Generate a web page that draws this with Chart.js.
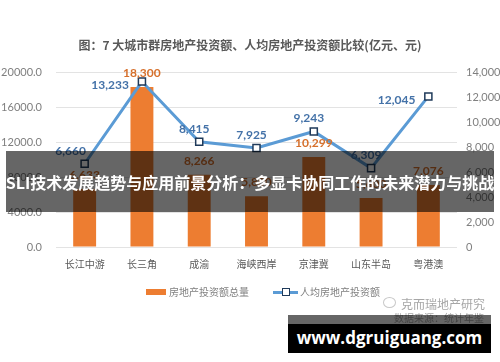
<!DOCTYPE html>
<html>
<head>
<meta charset="utf-8">
<script src="https://cdn.jsdelivr.net/npm/chart.js@4/dist/chart.umd.min.js"></script>
<style>
  html, body { margin:0; padding:0; background:#fff; }
  #wrap { position:relative; width:500px; height:362px; overflow:hidden; font-family:'Noto Sans CJK SC', sans-serif; }
  #ch { position:absolute; left:0; top:0; }
  .abs { position:absolute; white-space:nowrap; }
</style>
</head>
<body>
<div id="wrap">
  <canvas id="ch" width="500" height="362"></canvas>

  <div class="abs" style="left:0; width:500px; top:36px; text-align:center; font-size:12px; font-weight:700; color:#595959">图：7 大城市群房地产投资额、人均房地产投资额比较(亿元、元)</div>

  <!-- legend -->
  <div class="abs" style="left:146px; top:289px; width:20px; height:6px; background:#ed7d31"></div>
  <div class="abs" style="left:169px; top:284px; font-size:10px; color:#7f7f7f">房地产投资额总量</div>
  <div class="abs" style="left:273px; top:291px; width:25px; height:3px; background:#5b9bd5"></div>
  <div class="abs" style="left:282px; top:288px; width:6px; height:6px; border:1.5px solid #1f3a5a; background:#fff"></div>
  <div class="abs" style="left:300px; top:284px; font-size:10px; color:#7f7f7f">人均房地产投资额</div>

  <!-- watermark -->
  <div class="abs" style="left:383px; top:297px; width:11px; height:9px; border:1px solid #c8c8c8; border-radius:50%"></div>
  <div class="abs" style="left:401px; top:295px; font-size:12px; color:#a6a6a6">克而瑞地产研究</div>
  <div class="abs" style="left:394px; top:310px; font-size:10px; color:#a6a6a6">数据来源：统计年鉴</div>

  <!-- overlay banner -->
  <div class="abs" style="left:6px; top:151px; width:488px; height:61px; background:rgba(0,0,0,0.6)"></div>
  <div class="abs" style="left:0; width:500px; top:171px; text-align:center; font-size:16px; font-weight:700; color:#fff; line-height:22px">SLI技术发展趋势与应用前景分析：多显卡协同工作的未来潜力与挑战</div>

  <!-- url box -->
  <div class="abs" style="left:288px; top:315px; width:203px; height:9px; background:rgba(0,0,0,0.6)"></div>
  <div class="abs" style="left:288px; top:324px; width:203px; height:29px; background:#000"></div>
  <div class="abs" style="left:288px; width:203px; top:326px; text-align:center; font-family:'Open Sans',sans-serif; font-size:17px; font-weight:700; color:#fff; line-height:24px">www.dgruiguang.com</div>
</div>

<script>
const regions = ['长江中游', '长三角', '成渝', '海峡西岸', '京津冀', '山东半岛', '粤港澳'];
const investTotal = [6633, 18300, 8266, 5800, 10299, 5600, 7076];      // 亿元
const investPerCapita = [6660, 13233, 8415, 7925, 9243, 6309, 12045]; // 元
const leftTicks = [0, 4000, 8000, 12000, 16000, 20000];
const rightTicks = [0, 2000, 4000, 6000, 8000, 10000, 12000, 14000];

const fmt = v => v.toLocaleString('en-US');

// simple value labels drawn on top of the marks
const valueLabels = {
  id: 'valueLabels',
  afterDatasetsDraw(chart) {
    const ctx = chart.ctx;
    ctx.save();
    chart.data.datasets.forEach((ds, i) => {
      const meta = chart.getDatasetMeta(i);
      ctx.font = "700 12px Lato, 'Open Sans', sans-serif";
      ctx.fillStyle = ds.labelColor;
      ctx.textBaseline = 'middle';
      meta.data.forEach((el, j) => {
        const side = (ds.labelSide || [])[j] || 'top';
        const txt = fmt(ds.data[j]);
        if (side === 'left') {
          ctx.textAlign = 'right';
          ctx.fillText(txt, el.x - 13, el.y + 4);
        } else if (side === 'topleft') {
          ctx.textAlign = 'center';
          ctx.fillText(txt, el.x - 14, el.y - 13);
        } else {
          ctx.textAlign = 'center';
          ctx.fillText(txt, el.x - (ds.type === 'line' ? 5 : 0), el.y - (ds.type === 'line' ? 13 : 14));
        }
      });
    });
    ctx.restore();
  }
};

const tickFont = { family: "Lato, 'Open Sans', sans-serif", size: 11 };

new Chart(document.getElementById('ch'), {
  data: {
    labels: regions,
    datasets: [
      {
        type: 'line',
        label: '人均房地产投资额',
        data: investPerCapita,
        yAxisID: 'y1',
        borderColor: '#5b9bd5',
        borderWidth: 3,
        pointStyle: 'rect',
        pointRadius: 5,
        pointBorderWidth: 1.5,
        pointBorderColor: '#1f3a5a',
        pointBackgroundColor: '#fff',
        tension: 0,
        order: 0,
        labelColor: '#4472a8',
        labelSide: ['topleft', 'left', 'top', 'top', 'top', 'top', 'left']
      },
      {
        type: 'bar',
        label: '房地产投资额总量',
        data: investTotal,
        yAxisID: 'y',
        backgroundColor: '#ed7d31',
        categoryPercentage: 1,
        barPercentage: 0.4,
        order: 1,
        labelColor: '#d6702c'
      }
    ]
  },
  options: {
    responsive: false,
    animation: false,
    layout: { padding: { top: 72, left: 0, right: 0, bottom: 0 } },
    plugins: { legend: { display: false }, tooltip: { enabled: false } },
    scales: {
      x: {
        grid: { display: false, drawTicks: false },
        border: { display: false },
        ticks: { color: '#595959', padding: 11, font: { family: "'Noto Sans CJK SC', sans-serif", size: 10 } },
        afterFit: s => { s.height = 115; }
      },
      y: {
        position: 'left',
        min: 0, max: 20000,
        afterBuildTicks: s => { s.ticks = leftTicks.map(v => ({ value: v })); },
        grid: { color: '#e3e3e3', drawTicks: false },
        border: { display: false },
        ticks: { color: '#7f7f7f', padding: 14, font: tickFont, callback: v => v.toFixed(1) },
        afterFit: s => { s.width = 56; }
      },
      y1: {
        position: 'right',
        min: 0, max: 14000,
        afterBuildTicks: s => { s.ticks = rightTicks.map(v => ({ value: v })); },
        grid: { display: false, drawTicks: false },
        border: { display: false },
        ticks: { color: '#7f7f7f', padding: 9, font: tickFont },
        afterFit: s => { s.width = 43; }
      }
    }
  },
  plugins: [valueLabels]
});
</script>
</body>
</html>
